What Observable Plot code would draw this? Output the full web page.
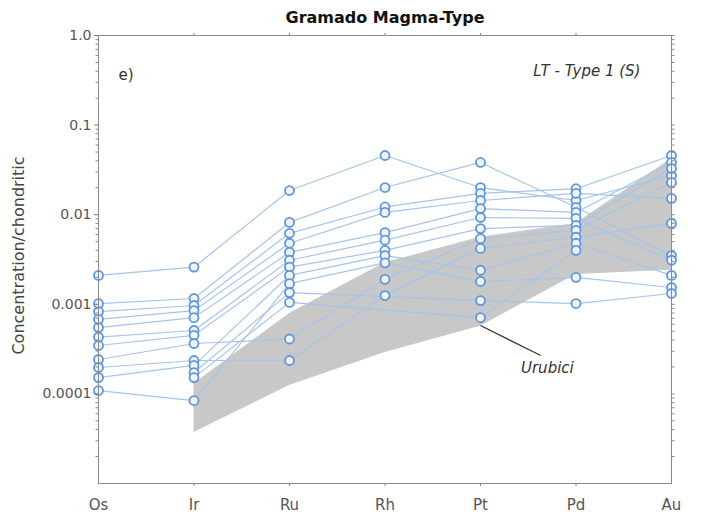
<!DOCTYPE html>
<html><head><meta charset="utf-8">
<script src="https://cdn.jsdelivr.net/npm/d3@7"></script>
<script src="https://cdn.jsdelivr.net/npm/@observablehq/plot@0.6"></script>
<style>body{margin:0;background:#fff}</style>
</head><body><div id="chart"></div>
<script>
// Elements (x categories)
const elements = ["Os", "Ir", "Ru", "Rh", "Pt", "Pd", "Au"];

// Sample patterns (concentration / chondritic), order: Os, Ir, Ru, Rh, Pt, Pd, Au
const s01 = [0.0021,   0.0026,    0.0186,   0.0458, 0.0201,  0.0144,  0.0274];
const s02 = [0.00102,  0.00116,   0.0082,   0.0201, 0.0383,  0.0121,  0.0035];
const s03 = [0.00083,  0.00097,   0.0062,   0.0122, 0.0173,  0.0195,  0.0458];
const s04 = [0.00068,  0.00085,   0.0048,   0.0106, 0.0144,  0.0173,  0.0152];
const s05 = [0.00055,  0.00071,   0.0038,   0.0063, 0.0117,  0.0106,  0.0383];
const s06 = [0.00043,  0.00051,   0.0031,   0.0052, 0.0093,  0.0091,  0.0031];
const s07 = [0.000347, 0.00045,   0.0026,   0.0040, 0.0070,  0.0076,  0.0328];
const s08 = [0.000242, 0.000365,  0.00041,  0.0019, 0.0054,  0.0067,  0.0229];
const s09 = [0.000197, 0.000236,  0.000236, 0.00125,0.0042,  0.0056,  0.0080];
const s10 = [0.000152, 0.000208,  0.0021,   0.0035, 0.0024,  0.0048,  0.0021];
const s11 = [0.000109, 0.0000843, 0.0017,   0.0029, 0.0018,  0.0020,  0.00154];
const s12 = [null,     0.000173,  0.00135,  null,   0.0011,  0.00102, 0.00132];
const s13 = [null,     0.000152,  0.00105,  null,   0.00071, 0.0040,  null];
const samples = [s01, s02, s03, s04, s05, s06, s07, s08, s09, s10, s11, s12, s13];

// Urubici field (grey band)
const urubiciLower = [null, 0.000037, 0.000124, 0.00029, 0.00057, 0.00215, 0.0024];
const urubiciUpper = [null, 0.00013,  0.00079,  0.0029,  0.0056,  0.0080,  0.042];

// Y tick labels
const yTickValues = [1, 0.1, 0.01, 0.001, 0.0001];
const yTickLabels = ["1.0", "0.1", "0.01", "0.001", "0.0001"];

// Annotations (data units: x = element index, y = value)
const panelLabel = [{x: 0.21, y: 0.36, t: "e)"}];
const typeLabel = [{x: 5.675, y: 0.40, t: "LT - Type 1 (S)"}];
const urubiciLabel = [{x: 4.70, y: 0.000192, t: "Urubici"}];
const urubiciPointer = [{x1: 4, y1: 0.00058, x2: 4.63, y2: 0.000268}];

const lineData = samples.flatMap((s, k) =>
  s.map((v, i) => ({sample: k, i, v})).filter(d => d.v != null));
const band = elements.map((e, i) => ({i, lo: urubiciLower[i], hi: urubiciUpper[i]}))
  .filter(d => d.lo != null);
const minor = [];
for (let d = -5; d < 0; d++) for (let k = 2; k <= 9; k++) minor.push(k * Math.pow(10, d));
const idx = d3.range(elements.length);

const chart = Plot.plot({
  width: 701, height: 523,
  marginLeft: 98, marginRight: 30, marginTop: 35, marginBottom: 40,
  style: {fontFamily: "DejaVu Sans", fontSize: "14px", color: "#555", background: "#fff"},
  x: {type: "linear", domain: [0, 6]},
  y: {type: "log", domain: [1e-5, 1]},
  marks: [
    Plot.areaY(band, {x: "i", y1: "lo", y2: "hi", fill: "#c8c8c8"}),
    Plot.line(lineData, {x: "i", y: "v", z: "sample", stroke: "#a3c5ec", strokeWidth: 1.2}),
    Plot.dot(lineData, {x: "i", y: "v", r: 4.5, stroke: "#6196da", strokeWidth: 1.8, fill: "#eef4fc"}),
    Plot.frame({stroke: "#8a8a8a"}),
    Plot.axisX({ticks: idx, tickFormat: i => elements[i], tickSize: 0, tickPadding: 16, fontSize: 15, label: null}),
    Plot.axisX({anchor: "bottom", ticks: d3.range(1, 6), tickSize: 3, tickFormat: () => "", label: null, stroke: "#888"}),
    Plot.axisX({anchor: "top", ticks: d3.range(1, 6), tickSize: 3, tickFormat: () => "", label: null, stroke: "#888"}),
    Plot.axisY({ticks: yTickValues, tickFormat: v => yTickLabels[yTickValues.indexOf(v)], tickSize: 4, tickPadding: 3, fontSize: 14, label: null, stroke: "#777"}),
    Plot.axisY({anchor: "left", ticks: minor, tickSize: 2.5, tickFormat: () => "", label: null, stroke: "#888"}),
    Plot.axisY({anchor: "right", ticks: yTickValues.concat(minor), tickSize: 2.5, tickFormat: () => "", label: null, stroke: "#888"}),
    Plot.text(["Gramado Magma-Type"], {text: d => d, frameAnchor: "top", lineAnchor: "middle", dy: -18, fontWeight: "bold", fontSize: 16, fill: "#111"}),
    Plot.text(["Concentration/chondritic"], {text: d => d, frameAnchor: "left", textAnchor: "middle", lineAnchor: "middle", dx: -80, dy: -4, rotate: -90, fontSize: 16, fill: "#444"}),
    Plot.text(panelLabel, {x: "x", y: "y", text: "t", textAnchor: "start", fontSize: 15, fill: "#333"}),
    Plot.text(typeLabel, {x: "x", y: "y", text: "t", textAnchor: "end", fontSize: 15, fontStyle: "italic", fill: "#333"}),
    Plot.link(urubiciPointer, {x1: "x1", y1: "y1", x2: "x2", y2: "y2", stroke: "#333", strokeWidth: 1.2}),
    Plot.text(urubiciLabel, {x: "x", y: "y", text: "t", fontSize: 15, fontStyle: "italic", fill: "#333"})
  ]
});
document.getElementById("chart").appendChild(chart);
</script>
</body></html>
